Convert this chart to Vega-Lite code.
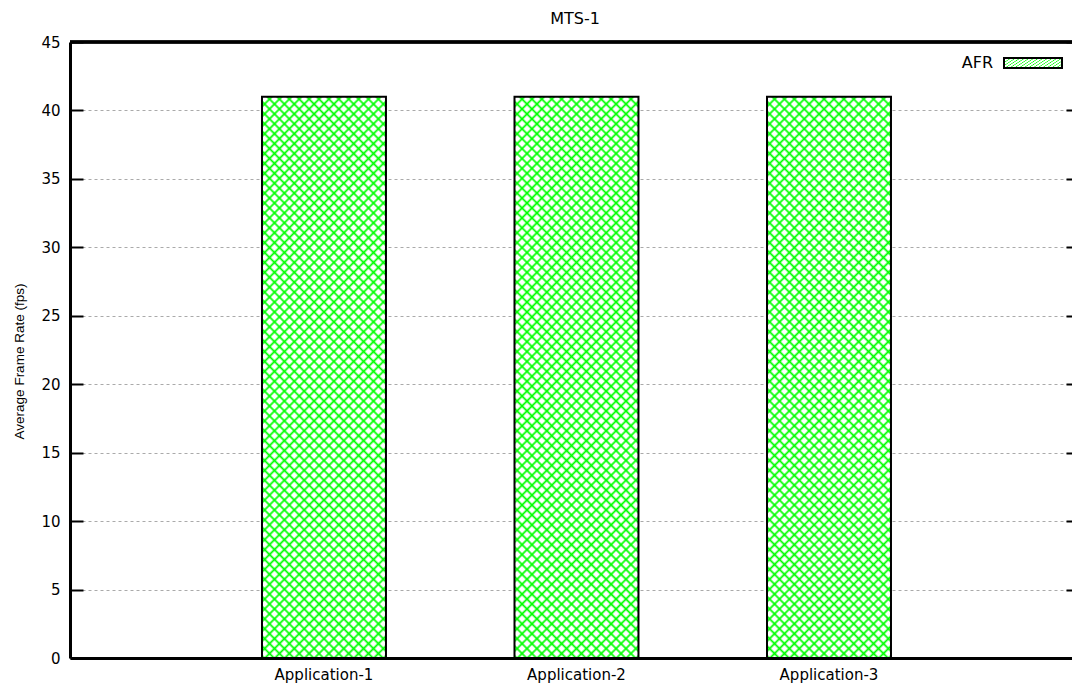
{
  "$schema": "https://vega.github.io/schema/vega-lite/v6.json",
  "width": 1002,
  "height": 616,
  "autosize": {"type": "none"},
  "padding": {"left": 70, "top": 42, "right": 0, "bottom": 26},
  "background": "white",
  "config": {"view": {"stroke": null}, "font": "DejaVu Sans"},
  "title": {"text": "MTS-1", "font": "DejaVu Sans", "fontSize": 16, "fontWeight": "normal", "color": "black", "anchor": "middle", "frame": "group", "dx": 4, "offset": 6},
  "data": {"values": [
    {"app": "Application-1", "afr": 41},
    {"app": "Application-2", "afr": 41},
    {"app": "Application-3", "afr": 41}
  ]},
  "layer": [
    {
      "mark": {"type": "bar", "strokeWidth": 0, "fill": {"gradient": "linear", "x1": 0, "y1": 0, "x2": 0.3716, "y2": 1.6819, "stops": [
        {"offset":0,"color":"#0f0"},{"offset":0.0025,"color":"#fff"},{"offset":0.0075,"color":"#fff"},
        {"offset":0.01,"color":"#0f0"},{"offset":0.0125,"color":"#fff"},{"offset":0.0175,"color":"#fff"},
        {"offset":0.02,"color":"#0f0"},{"offset":0.0225,"color":"#fff"},{"offset":0.0275,"color":"#fff"},
        {"offset":0.03,"color":"#0f0"},{"offset":0.0325,"color":"#fff"},{"offset":0.0375,"color":"#fff"},
        {"offset":0.04,"color":"#0f0"},{"offset":0.0425,"color":"#fff"},{"offset":0.0475,"color":"#fff"},
        {"offset":0.05,"color":"#0f0"},{"offset":0.0525,"color":"#fff"},{"offset":0.0575,"color":"#fff"},
        {"offset":0.06,"color":"#0f0"},{"offset":0.0625,"color":"#fff"},{"offset":0.0675,"color":"#fff"},
        {"offset":0.07,"color":"#0f0"},{"offset":0.0725,"color":"#fff"},{"offset":0.0775,"color":"#fff"},
        {"offset":0.08,"color":"#0f0"},{"offset":0.0825,"color":"#fff"},{"offset":0.0875,"color":"#fff"},
        {"offset":0.09,"color":"#0f0"},{"offset":0.0925,"color":"#fff"},{"offset":0.0975,"color":"#fff"},
        {"offset":0.10,"color":"#0f0"},{"offset":0.1025,"color":"#fff"},{"offset":0.1075,"color":"#fff"},
        {"offset":0.11,"color":"#0f0"},{"offset":0.1125,"color":"#fff"},{"offset":0.1175,"color":"#fff"},
        {"offset":0.12,"color":"#0f0"},{"offset":0.1225,"color":"#fff"},{"offset":0.1275,"color":"#fff"},
        {"offset":0.13,"color":"#0f0"},{"offset":0.1325,"color":"#fff"},{"offset":0.1375,"color":"#fff"},
        {"offset":0.14,"color":"#0f0"},{"offset":0.1425,"color":"#fff"},{"offset":0.1475,"color":"#fff"},
        {"offset":0.15,"color":"#0f0"},{"offset":0.1525,"color":"#fff"},{"offset":0.1575,"color":"#fff"},
        {"offset":0.16,"color":"#0f0"},{"offset":0.1625,"color":"#fff"},{"offset":0.1675,"color":"#fff"},
        {"offset":0.17,"color":"#0f0"},{"offset":0.1725,"color":"#fff"},{"offset":0.1775,"color":"#fff"},
        {"offset":0.18,"color":"#0f0"},{"offset":0.1825,"color":"#fff"},{"offset":0.1875,"color":"#fff"},
        {"offset":0.19,"color":"#0f0"},{"offset":0.1925,"color":"#fff"},{"offset":0.1975,"color":"#fff"},
        {"offset":0.20,"color":"#0f0"},{"offset":0.2025,"color":"#fff"},{"offset":0.2075,"color":"#fff"},
        {"offset":0.21,"color":"#0f0"},{"offset":0.2125,"color":"#fff"},{"offset":0.2175,"color":"#fff"},
        {"offset":0.22,"color":"#0f0"},{"offset":0.2225,"color":"#fff"},{"offset":0.2275,"color":"#fff"},
        {"offset":0.23,"color":"#0f0"},{"offset":0.2325,"color":"#fff"},{"offset":0.2375,"color":"#fff"},
        {"offset":0.24,"color":"#0f0"},{"offset":0.2425,"color":"#fff"},{"offset":0.2475,"color":"#fff"},
        {"offset":0.25,"color":"#0f0"},{"offset":0.2525,"color":"#fff"},{"offset":0.2575,"color":"#fff"},
        {"offset":0.26,"color":"#0f0"},{"offset":0.2625,"color":"#fff"},{"offset":0.2675,"color":"#fff"},
        {"offset":0.27,"color":"#0f0"},{"offset":0.2725,"color":"#fff"},{"offset":0.2775,"color":"#fff"},
        {"offset":0.28,"color":"#0f0"},{"offset":0.2825,"color":"#fff"},{"offset":0.2875,"color":"#fff"},
        {"offset":0.29,"color":"#0f0"},{"offset":0.2925,"color":"#fff"},{"offset":0.2975,"color":"#fff"},
        {"offset":0.30,"color":"#0f0"},{"offset":0.3025,"color":"#fff"},{"offset":0.3075,"color":"#fff"},
        {"offset":0.31,"color":"#0f0"},{"offset":0.3125,"color":"#fff"},{"offset":0.3175,"color":"#fff"},
        {"offset":0.32,"color":"#0f0"},{"offset":0.3225,"color":"#fff"},{"offset":0.3275,"color":"#fff"},
        {"offset":0.33,"color":"#0f0"},{"offset":0.3325,"color":"#fff"},{"offset":0.3375,"color":"#fff"},
        {"offset":0.34,"color":"#0f0"},{"offset":0.3425,"color":"#fff"},{"offset":0.3475,"color":"#fff"},
        {"offset":0.35,"color":"#0f0"},{"offset":0.3525,"color":"#fff"},{"offset":0.3575,"color":"#fff"},
        {"offset":0.36,"color":"#0f0"},{"offset":0.3625,"color":"#fff"},{"offset":0.3675,"color":"#fff"},
        {"offset":0.37,"color":"#0f0"},{"offset":0.3725,"color":"#fff"},{"offset":0.3775,"color":"#fff"},
        {"offset":0.38,"color":"#0f0"},{"offset":0.3825,"color":"#fff"},{"offset":0.3875,"color":"#fff"},
        {"offset":0.39,"color":"#0f0"},{"offset":0.3925,"color":"#fff"},{"offset":0.3975,"color":"#fff"},
        {"offset":0.40,"color":"#0f0"},{"offset":0.4025,"color":"#fff"},{"offset":0.4075,"color":"#fff"},
        {"offset":0.41,"color":"#0f0"},{"offset":0.4125,"color":"#fff"},{"offset":0.4175,"color":"#fff"},
        {"offset":0.42,"color":"#0f0"},{"offset":0.4225,"color":"#fff"},{"offset":0.4275,"color":"#fff"},
        {"offset":0.43,"color":"#0f0"},{"offset":0.4325,"color":"#fff"},{"offset":0.4375,"color":"#fff"},
        {"offset":0.44,"color":"#0f0"},{"offset":0.4425,"color":"#fff"},{"offset":0.4475,"color":"#fff"},
        {"offset":0.45,"color":"#0f0"},{"offset":0.4525,"color":"#fff"},{"offset":0.4575,"color":"#fff"},
        {"offset":0.46,"color":"#0f0"},{"offset":0.4625,"color":"#fff"},{"offset":0.4675,"color":"#fff"},
        {"offset":0.47,"color":"#0f0"},{"offset":0.4725,"color":"#fff"},{"offset":0.4775,"color":"#fff"},
        {"offset":0.48,"color":"#0f0"},{"offset":0.4825,"color":"#fff"},{"offset":0.4875,"color":"#fff"},
        {"offset":0.49,"color":"#0f0"},{"offset":0.4925,"color":"#fff"},{"offset":0.4975,"color":"#fff"},
        {"offset":0.50,"color":"#0f0"},{"offset":0.5025,"color":"#fff"},{"offset":0.5075,"color":"#fff"},
        {"offset":0.51,"color":"#0f0"},{"offset":0.5125,"color":"#fff"},{"offset":0.5175,"color":"#fff"},
        {"offset":0.52,"color":"#0f0"},{"offset":0.5225,"color":"#fff"},{"offset":0.5275,"color":"#fff"},
        {"offset":0.53,"color":"#0f0"},{"offset":0.5325,"color":"#fff"},{"offset":0.5375,"color":"#fff"},
        {"offset":0.54,"color":"#0f0"},{"offset":0.5425,"color":"#fff"},{"offset":0.5475,"color":"#fff"},
        {"offset":0.55,"color":"#0f0"},{"offset":0.5525,"color":"#fff"},{"offset":0.5575,"color":"#fff"},
        {"offset":0.56,"color":"#0f0"},{"offset":0.5625,"color":"#fff"},{"offset":0.5675,"color":"#fff"},
        {"offset":0.57,"color":"#0f0"},{"offset":0.5725,"color":"#fff"},{"offset":0.5775,"color":"#fff"},
        {"offset":0.58,"color":"#0f0"},{"offset":0.5825,"color":"#fff"},{"offset":0.5875,"color":"#fff"},
        {"offset":0.59,"color":"#0f0"},{"offset":0.5925,"color":"#fff"},{"offset":0.5975,"color":"#fff"},
        {"offset":0.60,"color":"#0f0"},{"offset":0.6025,"color":"#fff"},{"offset":0.6075,"color":"#fff"},
        {"offset":0.61,"color":"#0f0"},{"offset":0.6125,"color":"#fff"},{"offset":0.6175,"color":"#fff"},
        {"offset":0.62,"color":"#0f0"},{"offset":0.6225,"color":"#fff"},{"offset":0.6275,"color":"#fff"},
        {"offset":0.63,"color":"#0f0"},{"offset":0.6325,"color":"#fff"},{"offset":0.6375,"color":"#fff"},
        {"offset":0.64,"color":"#0f0"},{"offset":0.6425,"color":"#fff"},{"offset":0.6475,"color":"#fff"},
        {"offset":0.65,"color":"#0f0"},{"offset":0.6525,"color":"#fff"},{"offset":0.6575,"color":"#fff"},
        {"offset":0.66,"color":"#0f0"},{"offset":0.6625,"color":"#fff"},{"offset":0.6675,"color":"#fff"},
        {"offset":0.67,"color":"#0f0"},{"offset":0.6725,"color":"#fff"},{"offset":0.6775,"color":"#fff"},
        {"offset":0.68,"color":"#0f0"},{"offset":0.6825,"color":"#fff"},{"offset":0.6875,"color":"#fff"},
        {"offset":0.69,"color":"#0f0"},{"offset":0.6925,"color":"#fff"},{"offset":0.6975,"color":"#fff"},
        {"offset":0.70,"color":"#0f0"},{"offset":1,"color":"#fff"}
      ]}},
      "encoding": {
        "x": {"field": "app", "type": "nominal", "sort": null,
          "scale": {"paddingInner": 0.509, "paddingOuter": 0.7386, "align": 0.5147},
          "axis": {"title": null, "ticks": false, "labelAngle": 0, "labelFont": "DejaVu Sans", "labelFontSize": 15, "labelColor": "black", "labelPadding": 9, "domainColor": "black", "domainWidth": 3}},
        "y": {"field": "afr", "type": "quantitative",
          "scale": {"domain": [0, 45], "nice": false, "zero": true},
          "axis": {"orient": "left", "values": [0, 5, 10, 15, 20, 25, 30, 35, 40, 45], "title": "Average Frame Rate (fps)", "titleFont": "Liberation Sans", "titleFontSize": 13.5, "titleFontWeight": "normal", "titleColor": "black", "titlePadding": 14, "titleY": 319, "labelFont": "DejaVu Sans", "labelFontSize": 15, "labelColor": "black", "labelPadding": 23, "tickSize": -13, "tickWidth": 2, "tickColor": "black", "domainColor": "black", "domainWidth": 3, "grid": true, "gridColor": "#aaaaaa", "gridDash": [3, 3], "gridWidth": 1}}
      }
    },
    {
      "mark": {"type": "bar", "strokeWidth": 2, "fill": {"gradient": "linear", "x1": 1, "y1": 0, "x2": 0.6284, "y2": 1.6819, "stops": [
        {"offset":0,"color":"#0f0"},{"offset":0.0025,"color":"#0f00"},{"offset":0.0075,"color":"#0f00"},
        {"offset":0.01,"color":"#0f0"},{"offset":0.0125,"color":"#0f00"},{"offset":0.0175,"color":"#0f00"},
        {"offset":0.02,"color":"#0f0"},{"offset":0.0225,"color":"#0f00"},{"offset":0.0275,"color":"#0f00"},
        {"offset":0.03,"color":"#0f0"},{"offset":0.0325,"color":"#0f00"},{"offset":0.0375,"color":"#0f00"},
        {"offset":0.04,"color":"#0f0"},{"offset":0.0425,"color":"#0f00"},{"offset":0.0475,"color":"#0f00"},
        {"offset":0.05,"color":"#0f0"},{"offset":0.0525,"color":"#0f00"},{"offset":0.0575,"color":"#0f00"},
        {"offset":0.06,"color":"#0f0"},{"offset":0.0625,"color":"#0f00"},{"offset":0.0675,"color":"#0f00"},
        {"offset":0.07,"color":"#0f0"},{"offset":0.0725,"color":"#0f00"},{"offset":0.0775,"color":"#0f00"},
        {"offset":0.08,"color":"#0f0"},{"offset":0.0825,"color":"#0f00"},{"offset":0.0875,"color":"#0f00"},
        {"offset":0.09,"color":"#0f0"},{"offset":0.0925,"color":"#0f00"},{"offset":0.0975,"color":"#0f00"},
        {"offset":0.10,"color":"#0f0"},{"offset":0.1025,"color":"#0f00"},{"offset":0.1075,"color":"#0f00"},
        {"offset":0.11,"color":"#0f0"},{"offset":0.1125,"color":"#0f00"},{"offset":0.1175,"color":"#0f00"},
        {"offset":0.12,"color":"#0f0"},{"offset":0.1225,"color":"#0f00"},{"offset":0.1275,"color":"#0f00"},
        {"offset":0.13,"color":"#0f0"},{"offset":0.1325,"color":"#0f00"},{"offset":0.1375,"color":"#0f00"},
        {"offset":0.14,"color":"#0f0"},{"offset":0.1425,"color":"#0f00"},{"offset":0.1475,"color":"#0f00"},
        {"offset":0.15,"color":"#0f0"},{"offset":0.1525,"color":"#0f00"},{"offset":0.1575,"color":"#0f00"},
        {"offset":0.16,"color":"#0f0"},{"offset":0.1625,"color":"#0f00"},{"offset":0.1675,"color":"#0f00"},
        {"offset":0.17,"color":"#0f0"},{"offset":0.1725,"color":"#0f00"},{"offset":0.1775,"color":"#0f00"},
        {"offset":0.18,"color":"#0f0"},{"offset":0.1825,"color":"#0f00"},{"offset":0.1875,"color":"#0f00"},
        {"offset":0.19,"color":"#0f0"},{"offset":0.1925,"color":"#0f00"},{"offset":0.1975,"color":"#0f00"},
        {"offset":0.20,"color":"#0f0"},{"offset":0.2025,"color":"#0f00"},{"offset":0.2075,"color":"#0f00"},
        {"offset":0.21,"color":"#0f0"},{"offset":0.2125,"color":"#0f00"},{"offset":0.2175,"color":"#0f00"},
        {"offset":0.22,"color":"#0f0"},{"offset":0.2225,"color":"#0f00"},{"offset":0.2275,"color":"#0f00"},
        {"offset":0.23,"color":"#0f0"},{"offset":0.2325,"color":"#0f00"},{"offset":0.2375,"color":"#0f00"},
        {"offset":0.24,"color":"#0f0"},{"offset":0.2425,"color":"#0f00"},{"offset":0.2475,"color":"#0f00"},
        {"offset":0.25,"color":"#0f0"},{"offset":0.2525,"color":"#0f00"},{"offset":0.2575,"color":"#0f00"},
        {"offset":0.26,"color":"#0f0"},{"offset":0.2625,"color":"#0f00"},{"offset":0.2675,"color":"#0f00"},
        {"offset":0.27,"color":"#0f0"},{"offset":0.2725,"color":"#0f00"},{"offset":0.2775,"color":"#0f00"},
        {"offset":0.28,"color":"#0f0"},{"offset":0.2825,"color":"#0f00"},{"offset":0.2875,"color":"#0f00"},
        {"offset":0.29,"color":"#0f0"},{"offset":0.2925,"color":"#0f00"},{"offset":0.2975,"color":"#0f00"},
        {"offset":0.30,"color":"#0f0"},{"offset":0.3025,"color":"#0f00"},{"offset":0.3075,"color":"#0f00"},
        {"offset":0.31,"color":"#0f0"},{"offset":0.3125,"color":"#0f00"},{"offset":0.3175,"color":"#0f00"},
        {"offset":0.32,"color":"#0f0"},{"offset":0.3225,"color":"#0f00"},{"offset":0.3275,"color":"#0f00"},
        {"offset":0.33,"color":"#0f0"},{"offset":0.3325,"color":"#0f00"},{"offset":0.3375,"color":"#0f00"},
        {"offset":0.34,"color":"#0f0"},{"offset":0.3425,"color":"#0f00"},{"offset":0.3475,"color":"#0f00"},
        {"offset":0.35,"color":"#0f0"},{"offset":0.3525,"color":"#0f00"},{"offset":0.3575,"color":"#0f00"},
        {"offset":0.36,"color":"#0f0"},{"offset":0.3625,"color":"#0f00"},{"offset":0.3675,"color":"#0f00"},
        {"offset":0.37,"color":"#0f0"},{"offset":0.3725,"color":"#0f00"},{"offset":0.3775,"color":"#0f00"},
        {"offset":0.38,"color":"#0f0"},{"offset":0.3825,"color":"#0f00"},{"offset":0.3875,"color":"#0f00"},
        {"offset":0.39,"color":"#0f0"},{"offset":0.3925,"color":"#0f00"},{"offset":0.3975,"color":"#0f00"},
        {"offset":0.40,"color":"#0f0"},{"offset":0.4025,"color":"#0f00"},{"offset":0.4075,"color":"#0f00"},
        {"offset":0.41,"color":"#0f0"},{"offset":0.4125,"color":"#0f00"},{"offset":0.4175,"color":"#0f00"},
        {"offset":0.42,"color":"#0f0"},{"offset":0.4225,"color":"#0f00"},{"offset":0.4275,"color":"#0f00"},
        {"offset":0.43,"color":"#0f0"},{"offset":0.4325,"color":"#0f00"},{"offset":0.4375,"color":"#0f00"},
        {"offset":0.44,"color":"#0f0"},{"offset":0.4425,"color":"#0f00"},{"offset":0.4475,"color":"#0f00"},
        {"offset":0.45,"color":"#0f0"},{"offset":0.4525,"color":"#0f00"},{"offset":0.4575,"color":"#0f00"},
        {"offset":0.46,"color":"#0f0"},{"offset":0.4625,"color":"#0f00"},{"offset":0.4675,"color":"#0f00"},
        {"offset":0.47,"color":"#0f0"},{"offset":0.4725,"color":"#0f00"},{"offset":0.4775,"color":"#0f00"},
        {"offset":0.48,"color":"#0f0"},{"offset":0.4825,"color":"#0f00"},{"offset":0.4875,"color":"#0f00"},
        {"offset":0.49,"color":"#0f0"},{"offset":0.4925,"color":"#0f00"},{"offset":0.4975,"color":"#0f00"},
        {"offset":0.50,"color":"#0f0"},{"offset":0.5025,"color":"#0f00"},{"offset":0.5075,"color":"#0f00"},
        {"offset":0.51,"color":"#0f0"},{"offset":0.5125,"color":"#0f00"},{"offset":0.5175,"color":"#0f00"},
        {"offset":0.52,"color":"#0f0"},{"offset":0.5225,"color":"#0f00"},{"offset":0.5275,"color":"#0f00"},
        {"offset":0.53,"color":"#0f0"},{"offset":0.5325,"color":"#0f00"},{"offset":0.5375,"color":"#0f00"},
        {"offset":0.54,"color":"#0f0"},{"offset":0.5425,"color":"#0f00"},{"offset":0.5475,"color":"#0f00"},
        {"offset":0.55,"color":"#0f0"},{"offset":0.5525,"color":"#0f00"},{"offset":0.5575,"color":"#0f00"},
        {"offset":0.56,"color":"#0f0"},{"offset":0.5625,"color":"#0f00"},{"offset":0.5675,"color":"#0f00"},
        {"offset":0.57,"color":"#0f0"},{"offset":0.5725,"color":"#0f00"},{"offset":0.5775,"color":"#0f00"},
        {"offset":0.58,"color":"#0f0"},{"offset":0.5825,"color":"#0f00"},{"offset":0.5875,"color":"#0f00"},
        {"offset":0.59,"color":"#0f0"},{"offset":0.5925,"color":"#0f00"},{"offset":0.5975,"color":"#0f00"},
        {"offset":0.60,"color":"#0f0"},{"offset":0.6025,"color":"#0f00"},{"offset":0.6075,"color":"#0f00"},
        {"offset":0.61,"color":"#0f0"},{"offset":0.6125,"color":"#0f00"},{"offset":0.6175,"color":"#0f00"},
        {"offset":0.62,"color":"#0f0"},{"offset":0.6225,"color":"#0f00"},{"offset":0.6275,"color":"#0f00"},
        {"offset":0.63,"color":"#0f0"},{"offset":0.6325,"color":"#0f00"},{"offset":0.6375,"color":"#0f00"},
        {"offset":0.64,"color":"#0f0"},{"offset":0.6425,"color":"#0f00"},{"offset":0.6475,"color":"#0f00"},
        {"offset":0.65,"color":"#0f0"},{"offset":0.6525,"color":"#0f00"},{"offset":0.6575,"color":"#0f00"},
        {"offset":0.66,"color":"#0f0"},{"offset":0.6625,"color":"#0f00"},{"offset":0.6675,"color":"#0f00"},
        {"offset":0.67,"color":"#0f0"},{"offset":0.6725,"color":"#0f00"},{"offset":0.6775,"color":"#0f00"},
        {"offset":0.68,"color":"#0f0"},{"offset":0.6825,"color":"#0f00"},{"offset":0.6875,"color":"#0f00"},
        {"offset":0.69,"color":"#0f0"},{"offset":0.6925,"color":"#0f00"},{"offset":0.6975,"color":"#0f00"},
        {"offset":0.70,"color":"#0f0"},{"offset":1,"color":"#0f00"}
      ]}},
      "encoding": {
        "x": {"field": "app", "type": "nominal", "sort": null},
        "y": {"field": "afr", "type": "quantitative", "axis": null},
        "stroke": {"datum": "AFR", "type": "nominal", "scale": {"range": ["black"]},
          "legend": {"orient": "none", "legendX": 933, "legendY": -9, "title": null, "padding": 0,
            "symbolType": "M-1,-0.1724H1V0.1724H-1Z", "symbolSize": 3364, "symbolStrokeWidth": 2,
            "labelFont": "DejaVu Sans", "labelFontSize": 16, "labelColor": "black", "labelAlign": "right", "labelOffset": -70}}
      }
    },
    {
      "mark": {"type": "rule", "color": "black", "strokeWidth": 3},
      "encoding": {
        "y": {"datum": 45, "type": "quantitative",
          "axis": {"orient": "right", "values": [0, 5, 10, 15, 20, 25, 30, 35, 40, 45], "title": null, "labels": false, "domain": false, "grid": false, "ticks": true, "tickSize": -6, "tickWidth": 2, "tickColor": "black"}}
      }
    }
  ],
  "resolve": {"axis": {"y": "independent"}}
}
